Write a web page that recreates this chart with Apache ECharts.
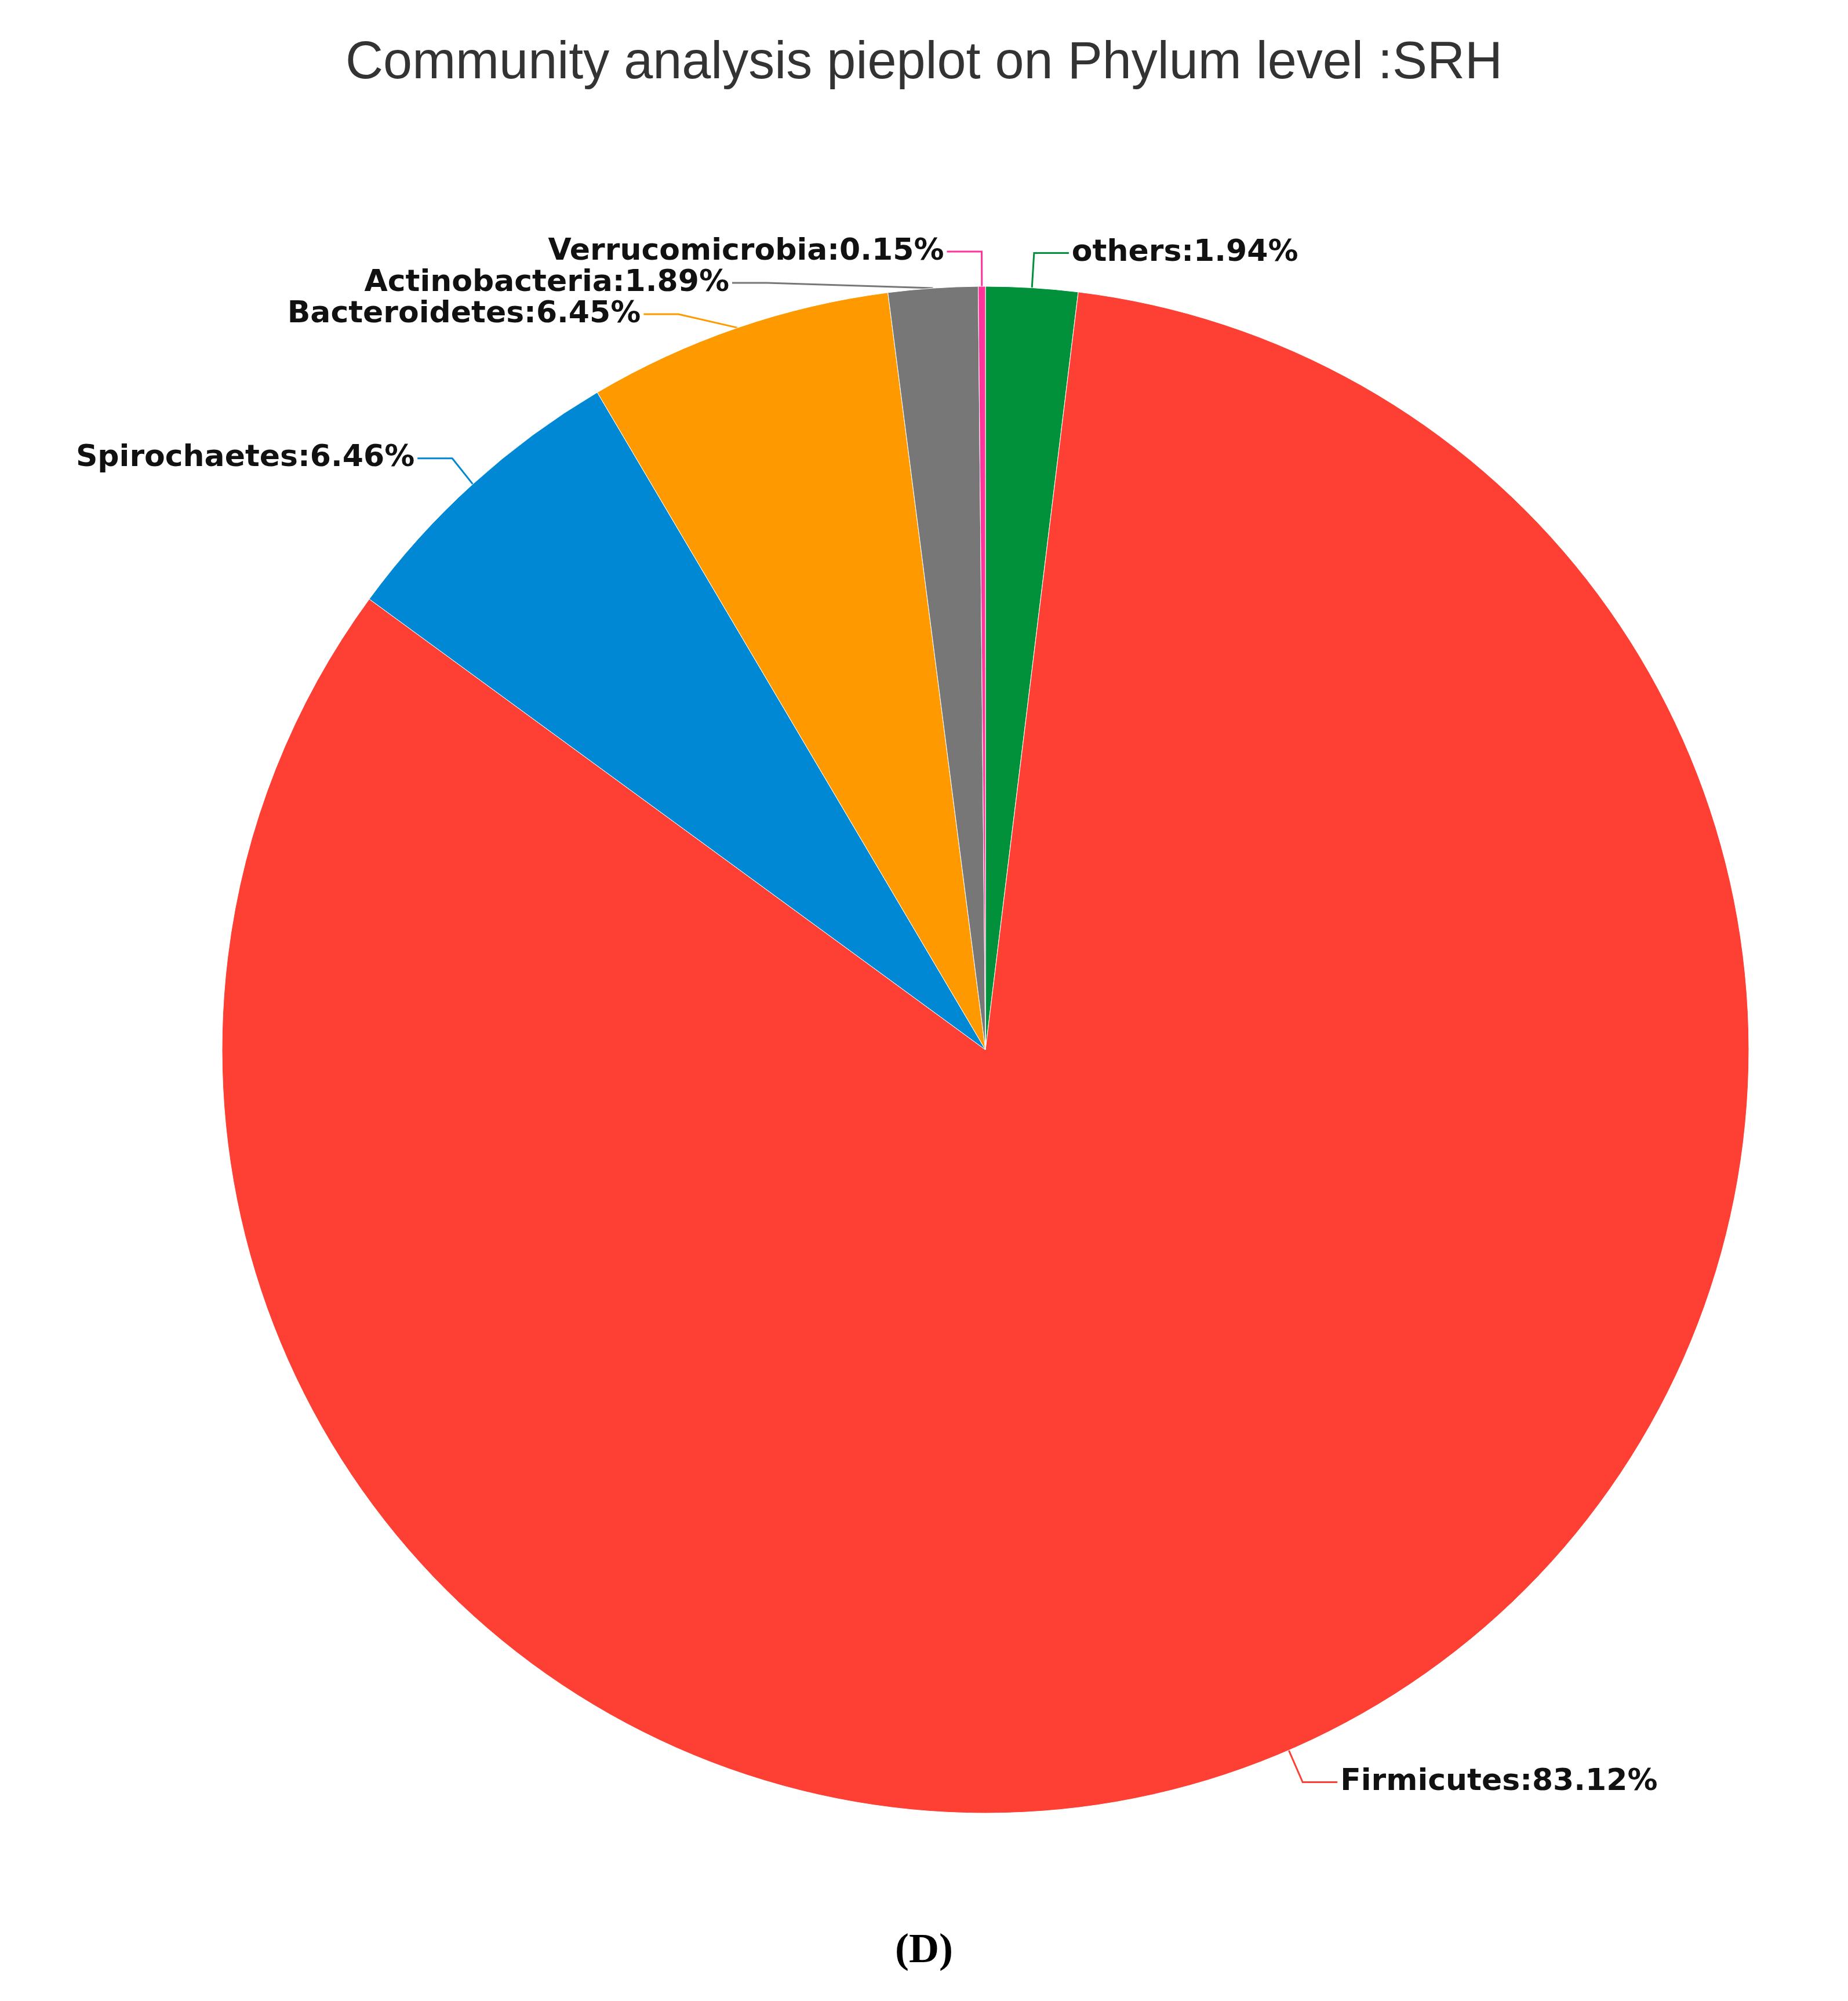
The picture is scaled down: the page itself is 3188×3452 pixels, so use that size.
<!DOCTYPE html>
<html>
<head>
<meta charset="utf-8">
<script src="https://cdn.jsdelivr.net/npm/echarts@6/dist/echarts.min.js"></script>
<style>
  html, body { margin: 0; padding: 0; background: #fff; }
  #main { width: 3188px; height: 3452px; }
</style>
</head>
<body>
<div id="main"></div>
<script>
// data, clockwise from 12 o'clock
const phyla = ['others', 'Firmicutes', 'Spirochaetes', 'Bacteroidetes', 'Actinobacteria', 'Verrucomicrobia'];
const percents = [1.94, 83.12, 6.46, 6.45, 1.89, 0.15];
const colors = ['#00913a', '#fe4034', '#0088d4', '#ff9900', '#777777', '#ff3399'];

let myChart = echarts.init(document.getElementById('main'));

const pie_data = phyla.map((name, i) => ({
  name: name,
  value: percents[i],
  itemStyle: { color: colors[i] }
}));

let option = {
  backgroundColor: '#ffffff',
  title: [
    {
      text: 'Community analysis pieplot on Phylum level :SRH',
      left: 'center',
      top: 60,
      textStyle: { fontFamily: 'Liberation Sans', fontWeight: 'normal', fontSize: 90, color: '#333' }
    },
    {
      text: '(D)',
      left: 'center',
      top: 3325,
      textStyle: { fontFamily: 'Liberation Serif', fontWeight: 'bold', fontSize: 72, color: '#000' }
    }
  ],
  series: [{
    type: 'pie',
    center: [1700, 1811],
    radius: 1317,
    startAngle: 90,
    clockwise: true,
    data: pie_data,
    itemStyle: { borderColor: '#ffffff', borderWidth: 1 },
    label: {
      formatter: (p) => p.name + ':' + p.value.toFixed(2) + '%',
      fontFamily: 'DejaVu Sans',
      fontWeight: 'bold',
      fontSize: 52,
      color: '#111'
    },
    labelLine: { length: 60, length2: 60, lineStyle: { width: 3 } }
  }]
};

myChart.setOption(option);
</script>
</body>
</html>
